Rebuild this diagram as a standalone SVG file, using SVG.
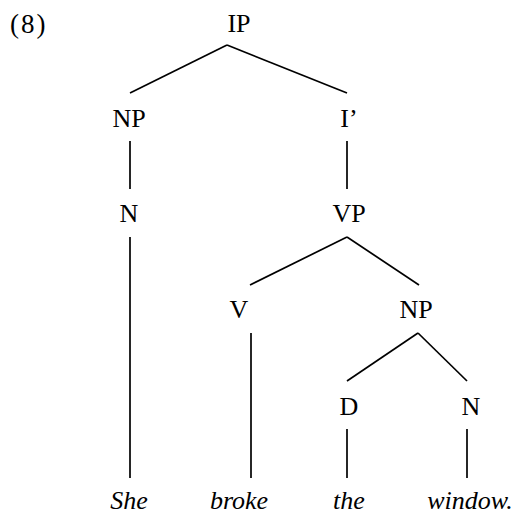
<svg xmlns="http://www.w3.org/2000/svg" width="515" height="514" viewBox="0 0 515 514">
<style>
.t{font-family:'Liberation Serif',serif;font-size:26px;fill:#000;text-anchor:middle}
.w{font-style:italic}
#edges line{stroke:#000;stroke-width:1.7;fill:none}
</style>
<rect width="515" height="514" fill="#fff"/>
<text class="t" x="10" y="33" style="text-anchor:start;font-size:27px;letter-spacing:2px">(8)</text>
<g id="edges">
<line x1="227" y1="45" x2="130" y2="93"/>
<line x1="227" y1="45" x2="347" y2="93"/>
<line x1="130" y1="141" x2="130" y2="189"/>
<line x1="347" y1="141" x2="347" y2="189"/>
<line x1="130" y1="237" x2="130" y2="478"/>
<line x1="347" y1="237" x2="250" y2="285"/>
<line x1="347" y1="237" x2="419" y2="285"/>
<line x1="251" y1="333" x2="251" y2="478"/>
<line x1="418" y1="333" x2="347" y2="381"/>
<line x1="418" y1="333" x2="467" y2="381"/>
<line x1="347" y1="429" x2="347" y2="478"/>
<line x1="467" y1="429" x2="467" y2="478"/>
</g>
<g id="IP"><text class="t" x="239" y="32">IP</text></g>
<g id="NP1"><text class="t" x="129" y="127">NP</text></g>
<g id="Ibar"><text class="t" x="349" y="127">I’</text></g>
<g id="N1"><text class="t" x="129" y="222">N</text></g>
<g id="VP"><text class="t" x="349" y="222">VP</text></g>
<g id="V"><text class="t" x="239" y="318">V</text></g>
<g id="NP2"><text class="t" x="416" y="318">NP</text></g>
<g id="D"><text class="t" x="349" y="415">D</text></g>
<g id="N2"><text class="t" x="471" y="415">N</text></g>
<g id="She"><text class="t w" x="129" y="509">She</text></g>
<g id="broke"><text class="t w" x="239" y="509">broke</text></g>
<g id="the"><text class="t w" x="349" y="509">the</text></g>
<g id="window"><text class="t w" x="470" y="509">window.</text></g>
</svg>
